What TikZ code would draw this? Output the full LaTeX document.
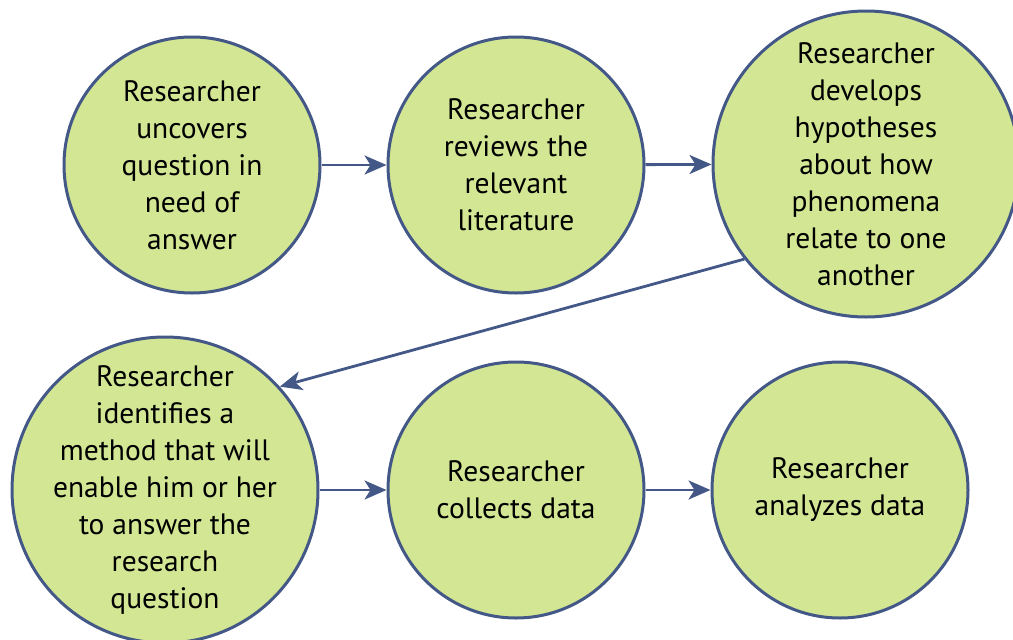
\documentclass[tikz,border=0pt]{standalone}
\usepackage{fontspec}
\setmainfont{PT Sans}
\usetikzlibrary{arrows.meta}
\definecolor{stepfill}{RGB}{210,230,148}
\definecolor{stepline}{RGB}{67,88,135}

\begin{document}
\begin{tikzpicture}[x=1pt,y=-1pt,
    stepnode/.style={circle,draw=stepline,line width=3pt,fill=stepfill,inner sep=0pt,
      label={[align=center,font=\fontsize{29.5}{37}\selectfont]center:#1}},
    small/.style={stepnode={#1},minimum size=256pt},
    big/.style={stepnode={#1},minimum size=306pt},
    flow/.style={draw=stepline,line width=2.8pt,-{Stealth[length=22pt,width=19pt,inset=6pt]}}]
      \useasboundingbox (0,0) rectangle (1013,640);
      \node[small={Researcher\\uncovers\\question in\\need of\\answer}] (Q) at (192,165) {};
      \node[small={Researcher\\reviews the\\relevant\\literature}] (Lit) at (516,165) {};
      \node[big={Researcher\\develops\\hypotheses\\about how\\phenomena\\relate to one\\another}] (Hyp) at (866,164) {};
      \node[big={Researcher\\identifies a\\method that will\\enable him or her\\to answer the\\research\\question}] (Meth) at (165,490) {};
      \node[small={Researcher\\collects data}] (Coll) at (516,490) {};
      \node[small={Researcher\\analyzes data}] (Anal) at (840,490) {};
      \draw[flow] (Q) -- (Lit);
      \draw[flow] (Lit) -- (Hyp);
      \draw[flow] (Hyp.218) -- (Meth.42);
      \draw[flow] (Meth) -- (Coll);
      \draw[flow] (Coll) -- (Anal);
    \end{tikzpicture}
\end{document}
